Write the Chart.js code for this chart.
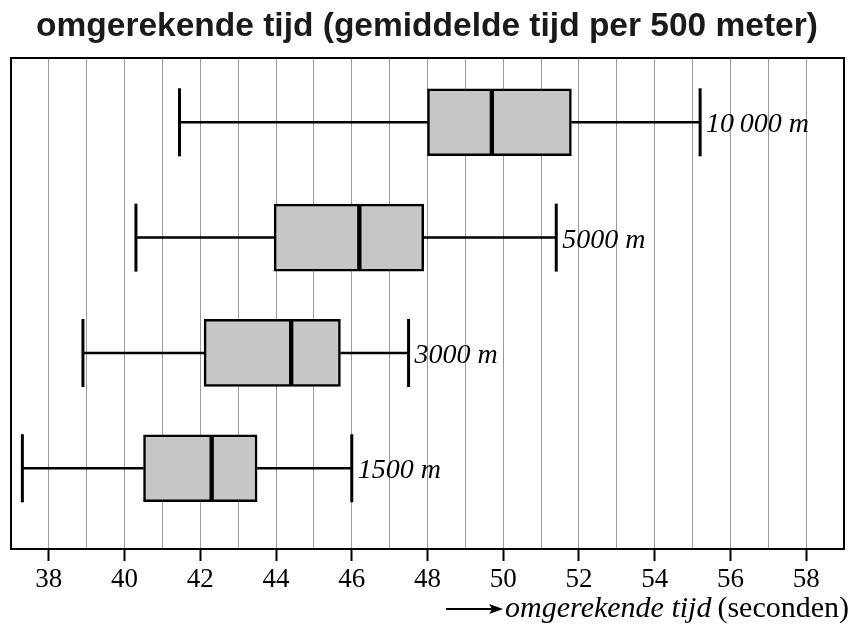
<!DOCTYPE html>
<html><head><meta charset="utf-8">
<script src="https://cdn.jsdelivr.net/npm/chart.js@4.4.1/dist/chart.umd.min.js"></script>
<style>html,body{margin:0;padding:0;background:#fff;}#wrap{width:854px;height:635px;}</style>
</head><body><div id="wrap"><canvas id="c" width="854" height="635"></canvas></div>
<script>
const chartTitle = 'omgerekende tijd (gemiddelde tijd per 500 meter)';
const categories = ['10\u2009000 m', '5000 m', '3000 m', '1500 m'];
const minimum = [41.45, 40.3, 38.9, 37.3];
const q1      = [48.0, 43.95, 42.1, 40.5];
const median  = [49.7, 46.2, 44.4, 42.3];
const q3      = [51.8, 47.9, 45.7, 43.5];
const maximum = [55.2, 51.4, 47.5, 46.0];
const xTicks = [38, 40, 42, 44, 46, 48, 50, 52, 54, 56, 58];
const axisTitleItalic = 'omgerekende tijd';
const axisTitleUnit = '(seconden)';

const pos = i => categories.length - i;

const lowerHalf = categories.map((c, i) => ({ x: [q1[i], median[i]], y: pos(i) }));
const upperHalf = categories.map((c, i) => ({ x: [median[i], q3[i]], y: pos(i) }));
const whiskers = [];
categories.forEach((c, i) => {
  whiskers.push({ x: minimum[i], y: pos(i) }, { x: q1[i], y: pos(i) }, { x: null, y: null },
                { x: q3[i], y: pos(i) }, { x: maximum[i], y: pos(i) }, { x: null, y: null });
});
const caps = [];
categories.forEach((c, i) => { caps.push({ x: minimum[i], y: pos(i) }, { x: maximum[i], y: pos(i) }); });

const boxStyle = { backgroundColor: '#c6c6c6', borderColor: '#000', borderWidth: 2.5, borderSkipped: false, barThickness: 67, grouped: false };

const decor = {
  id: 'decor',
  afterDraw(chart) {
    const ctx = chart.ctx, a = chart.chartArea, xs = chart.scales.x, ys = chart.scales.y;
    ctx.save();
    ctx.strokeStyle = '#000'; ctx.lineWidth = 2;
    ctx.strokeRect(a.left, a.top, a.right - a.left, a.bottom - a.top);
    ctx.fillStyle = '#1a1a1a';
    ctx.font = 'bold 33.5px "Liberation Sans", Arial, sans-serif';
    ctx.textAlign = 'center'; ctx.textBaseline = 'alphabetic';
    ctx.fillText(chartTitle, 427, 36);
    ctx.fillStyle = '#000';
    ctx.font = 'italic 28px "Liberation Serif", "Times New Roman", serif';
    ctx.textAlign = 'left';
    categories.forEach((c, i) => {
      const x = xs.getPixelForValue(maximum[i]) + 6;
      const y = ys.getPixelForValue(pos(i)) + 10;
      ctx.fillText(c, x, y);
    });
    const base = 617;
    ctx.font = '30px "Liberation Serif", "Times New Roman", serif';
    const wUnit = ctx.measureText(axisTitleUnit).width;
    const right = 849;
    ctx.textAlign = 'right';
    ctx.fillText(axisTitleUnit, right, base);
    ctx.font = 'italic 30px "Liberation Serif", "Times New Roman", serif';
    const xItalicEnd = right - wUnit - 6;
    const wIt = ctx.measureText(axisTitleItalic).width;
    ctx.fillText(axisTitleItalic, xItalicEnd, base);
    const arrowEnd = xItalicEnd - wIt - 2;
    const ay = base - 8;
    ctx.lineWidth = 2;
    ctx.beginPath(); ctx.moveTo(arrowEnd - 57, ay); ctx.lineTo(arrowEnd - 10, ay); ctx.stroke();
    ctx.beginPath(); ctx.moveTo(arrowEnd, ay); ctx.lineTo(arrowEnd - 14, ay - 5); ctx.lineTo(arrowEnd - 11, ay); ctx.lineTo(arrowEnd - 14, ay + 5); ctx.closePath(); ctx.fill();
    ctx.restore();
  }
};

new Chart(document.getElementById('c'), {
  data: {
    datasets: [
      Object.assign({ type: 'bar', label: 'Q1-mediaan', data: lowerHalf }, boxStyle),
      Object.assign({ type: 'bar', label: 'mediaan-Q3', data: upperHalf }, boxStyle),
      { type: 'line', label: 'snorharen', data: whiskers, borderColor: '#000', borderWidth: 2.5, pointRadius: 0, spanGaps: false, fill: false, tension: 0 },
      { type: 'scatter', label: 'min/max', data: caps, pointStyle: 'line', rotation: 90, pointRadius: 34, pointHoverRadius: 34, borderColor: '#000', pointBorderWidth: 3, borderWidth: 3, clip: false }
    ]
  },
  options: {
    indexAxis: 'y',
    responsive: false,
    devicePixelRatio: 1,
    animation: false,
    layout: { autoPadding: false, padding: { top: 58, left: 11, right: 10, bottom: 0 } },
    plugins: { legend: { display: false }, tooltip: { enabled: false }, title: { display: false } },
    scales: {
      x: {
        type: 'linear', position: 'bottom', min: 37, max: 59, offset: false,
        ticks: {
          stepSize: 1, autoSkip: false, maxRotation: 0, minRotation: 0, color: '#000', padding: 3,
          font: { family: '"Liberation Serif", "Times New Roman", serif', size: 27 },
          callback: v => xTicks.includes(v) ? String(v) : ''
        },
        grid: {
          color: '#9a9a9a', lineWidth: 1, drawTicks: true, tickLength: 12, tickWidth: 2,
          tickColor: ctx => (ctx.tick && xTicks.includes(ctx.tick.value)) ? '#000' : 'rgba(0,0,0,0)'
        },
        border: { display: true, color: '#000', width: 2 },
        afterFit: s => { s.height = 86; s.paddingLeft = 0; s.paddingRight = 0; }
      },
      y: { type: 'linear', min: 0.3, max: 4.5575, display: false, offset: false }
    }
  },
  plugins: [decor]
});
</script>
</body></html>
